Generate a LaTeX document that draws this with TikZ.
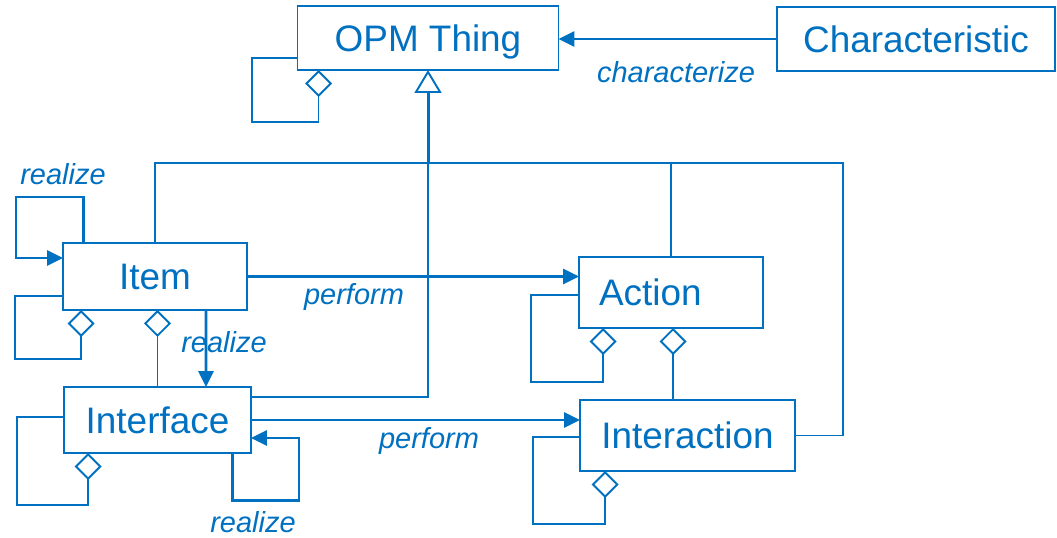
\documentclass[tikz,border=0pt]{standalone}
\usepackage{fontspec}
\setmainfont{Liberation Sans}
\usetikzlibrary{arrows.meta,calc}

\definecolor{opmblue}{RGB}{0,112,192}

\tikzset{
	box/.style={draw=opmblue, text=opmblue, line width=1.1pt, inner sep=0pt, outer sep=0pt,
		font=\fontsize{21}{25}\selectfont, text height=15pt, text depth=0pt},
	line/.style={draw=opmblue, line width=1.1pt},
	flow/.style={draw=opmblue, line width=1.7pt, -{Triangle[length=0.32cm,width=0.3cm]}},
	agg/.style={line, -{Diamond[open,length=0.54cm,width=0.54cm,line width=1.1pt]}},
	gen/.style={draw=opmblue, line width=1.7pt, -{Triangle[open,length=0.46cm,width=0.54cm,line width=1.1pt]}},
	lbl/.style={text=opmblue, inner sep=0pt, font=\fontsize{16.5}{19}\selectfont\itshape}
}

\begin{document}
\begin{tikzpicture}[x=0.02cm, y=-0.02cm]
	\useasboundingbox (0,0) rectangle (1057,537);

	% classes
	\node[box, minimum width=5.22cm, minimum height=1.28cm] (thing) at (428,38) {OPM Thing};
	\node[box, minimum width=5.56cm, minimum height=1.28cm] (charac) at (916,39) {Characteristic};
	\node[box, minimum width=3.68cm, minimum height=1.34cm] (item) at (155,276.5) {Item};
	\node[box, minimum width=3.74cm, minimum height=1.32cm] (iface) at (157.5,420) {Interface};
	\node[box, minimum width=3.68cm, minimum height=1.42cm, inner xsep=0.4cm, text width=2.88cm, align=left] (action) at (671,292.5) {Action};
	\node[box, minimum width=4.3cm, minimum height=1.42cm] (interact) at (687.5,435.5) {Interaction};

	% characterize
	\draw[flow] (charac.west) -- (charac.west -| thing.east);
	\node[lbl] (lchar) at (676,72) {characterize};

	% generalization tree
	\coordinate (hub) at (428,163);
	\coordinate (rbend) at (843,163);
	\draw[gen] (hub) -- (thing.south);
	\draw[line] (item.north) |- (hub) -| (action.north);
	\draw[line] (hub) -- (rbend) |- (interact.east);
	\draw[line] ($(iface.east)+(0,-23)$) -| (hub);

	% perform
	\draw[flow] (item.east) -- (item.east -| action.west);
	\node[lbl] (lperf1) at (354,297) {perform};
	\draw[flow] (iface.east) -- (iface.east -| interact.west);
	\node[lbl] (lperf2) at (429,441) {perform};

	% realize
	\draw[flow] ($(item.south)+(51,0)$) -- ($(iface.north)+(48.5,0)$);
	\node[lbl] (lreal2) at (224,342) {realize};
	\draw[flow] ($(item.north west)+(20,0)$) |- (16,197) |- ($(item.west)+(0,-18.5)$);
	\node[lbl] (lreal1) at (63,174) {realize};
	\draw[flow] ($(iface.south east)+(-18,0)$) |- (299,500) |- ($(iface.east)+(0,18)$);
	\node[lbl] (lreal3) at (253,522) {realize};

	% aggregation
	\draw[agg] ($(thing.west)+(0,20)$) -| (252,122) -| ($(thing.south west)+(21,0)$);
	\draw[agg] ($(item.west)+(0,19.5)$) -| (15,359) -| ($(item.south west)+(18,0)$);
	\draw[agg] (iface.north) -- (iface.north |- item.south);
	\draw[agg] ($(iface.west)+(0,-3)$) -| (17,505) -| ($(iface.south west)+(24,0)$);
	\draw[agg] ($(action.west)+(0,2.5)$) -| (531,382) -| ($(action.south west)+(24,0)$);
	\draw[agg] ($(interact.north)+(-14.5,0)$) -- ($(action.south)+(2,0)$);
	\draw[agg] ($(interact.west)+(0,1.5)$) -| (533,524) -| ($(interact.south west)+(25,0)$);
\end{tikzpicture}
\end{document}
